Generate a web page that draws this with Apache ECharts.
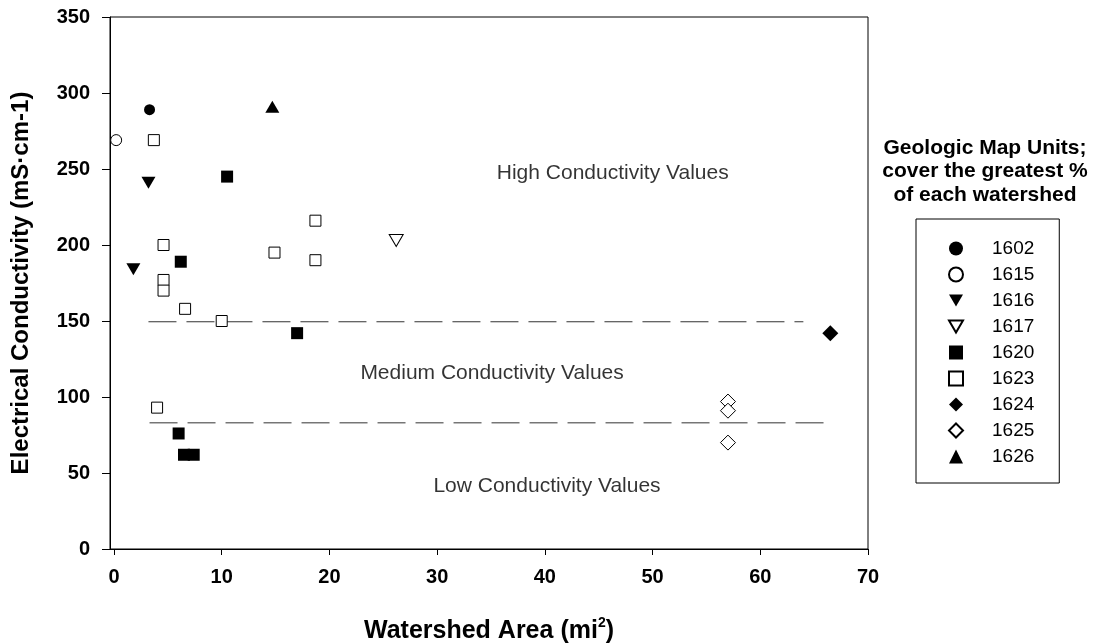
<!DOCTYPE html>
<html>
<head>
<meta charset="utf-8">
<script src="https://cdn.jsdelivr.net/npm/echarts@6/dist/echarts.min.js"></script>
<style>
html,body{margin:0;padding:0;background:#fff;}
#chart{width:1095px;height:643px;}
</style>
</head>
<body>
<div id="chart"></div>
<script>
// ---- data ----
const xTicks = [0, 10, 20, 30, 40, 50, 60, 70];
const s1602 = [[3.3, 289]];
const s1615 = [[0.2, 269]];
const s1616 = [[3.2, 241], [1.8, 184]];
const s1617 = [[26.2, 203]];
const s1620 = [[10.5, 245], [6.2, 189], [17.0, 142], [6.0, 76], [6.5, 62], [7.4, 62]];
const s1623 = [[3.7, 269], [4.6, 200], [4.6, 177], [4.6, 170], [6.6, 158], [10.0, 150], [14.9, 195], [18.7, 216], [18.7, 190], [4.0, 93]];
const s1624 = [[66.5, 142]];
const s1625 = [[57.0, 97], [57.0, 91], [57.0, 70]];
const s1626 = [[14.7, 291]];
const mediumThreshold = [[3.2, 149.5], [64.0, 149.5]];
const lowThreshold = [[3.3, 83], [66.2, 83]];
const zoneLabels = [
  { name: 'High Conductivity Values', value: [46.3, 247.3] },
  { name: 'Medium Conductivity Values', value: [35.1, 115.6] },
  { name: 'Low Conductivity Values', value: [40.2, 41.3] }
];

const FONT = '"Liberation Sans", Arial, sans-serif';
const triDown = 'path://M0,0L10,0L5,8.6Z';
const filled = { color: '#000', opacity: 1 };
const open = { color: '#fff', borderColor: '#000', borderWidth: 1, opacity: 1 };

function sc(name, data, symbol, size, style) {
  return { name, type: 'scatter', data, symbol, symbolSize: size, itemStyle: style, z: 5 };
}

const series = [
  sc('1602', s1602, 'circle', 11, filled),
  sc('1615', s1615, 'circle', 11, open),
  sc('1616', s1616, triDown, [14, 12], filled),
  sc('1617', s1617, triDown, [14, 12], open),
  sc('1620', s1620, 'rect', 12, filled),
  sc('1623', s1623, 'rect', 11, open),
  sc('1624', s1624, 'diamond', 16, filled),
  sc('1625', s1625, 'diamond', 15, open),
  sc('1626', s1626, 'triangle', [14, 12], filled),
  { type: 'line', data: mediumThreshold, symbol: 'none', silent: true, z: 2,
    lineStyle: { color: '#333', width: 1, type: [28, 10] } },
  { type: 'line', data: lowThreshold, symbol: 'none', silent: true, z: 2,
    lineStyle: { color: '#333', width: 1, type: [28, 10] } },
  { type: 'scatter', data: zoneLabels, symbolSize: 1, silent: true, z: 1,
    itemStyle: { color: 'rgba(0,0,0,0)' },
    label: { show: true, position: 'inside', formatter: '{b}', color: '#000',
      fontFamily: FONT, fontSize: 21 } }
];

const chart = echarts.init(document.getElementById('chart'));
chart.setOption({
  animation: false,
  backgroundColor: '#fff',
  grid: { left: 110, right: 227, top: 17, bottom: 94, show: true,
    outerBoundsMode: 'none', containLabel: false,
    borderColor: '#000', borderWidth: 1, backgroundColor: 'transparent' },
  xAxis: {
    type: 'value', min: -0.371, max: 70,
    name: '{a|Watershed Area (mi}{s|2}{a|)}',
    nameLocation: 'middle', nameGap: 67,
    nameTextStyle: { rich: {
      a: { fontFamily: FONT, fontWeight: 'bold', fontSize: 25, color: '#000', lineHeight: 28, verticalAlign: 'bottom' },
      s: { fontFamily: FONT, fontWeight: 'bold', fontSize: 14, color: '#000', lineHeight: 28, verticalAlign: 'top' }
    } },
    axisLine: { show: true, onZero: false, lineStyle: { color: '#000', width: 1 } },
    axisTick: { show: true, length: 6, customValues: xTicks, lineStyle: { color: '#000' } },
    axisLabel: { customValues: xTicks, margin: 18, color: '#000', fontFamily: FONT, fontWeight: 'bold', fontSize: 20 },
    splitLine: { show: false }
  },
  yAxis: {
    type: 'value', min: 0, max: 350, interval: 50,
    name: 'Electrical Conductivity (mS·cm-1)',
    nameLocation: 'middle', nameGap: 77, nameRotate: 90,
    nameTextStyle: { fontFamily: FONT, fontWeight: 'bold', fontSize: 24, color: '#000' },
    axisLine: { show: true, onZero: false, lineStyle: { color: '#000', width: 1 } },
    axisTick: { show: true, length: 8, lineStyle: { color: '#000' } },
    axisLabel: { margin: 20, color: '#000', fontFamily: FONT, fontWeight: 'bold', fontSize: 20 },
    splitLine: { show: false }
  },
  legend: {
    orient: 'vertical', left: 916, top: 219,
    data: ['1602', '1615', '1616', '1617', '1620', '1623', '1624', '1625', '1626'],
    itemWidth: 14, itemHeight: 14, itemGap: 7,
    padding: [20, 25, 17, 32],
    borderColor: '#000', borderWidth: 1, backgroundColor: '#fff',
    textStyle: { fontFamily: FONT, fontSize: 19, color: '#000', padding: [0, 0, 0, 24] },
    selectedMode: false
  },
  graphic: [{
    type: 'text', x: 985, y: 136, z: 10,
    style: { text: 'Geologic Map Units;\ncover the greatest %\nof each watershed',
      align: 'center', textAlign: 'center', verticalAlign: 'top',
      fontFamily: FONT, fontWeight: 'bold', fontSize: 21, lineHeight: 23.5, fill: '#000' }
  }],
  series
});
</script>
</body>
</html>
